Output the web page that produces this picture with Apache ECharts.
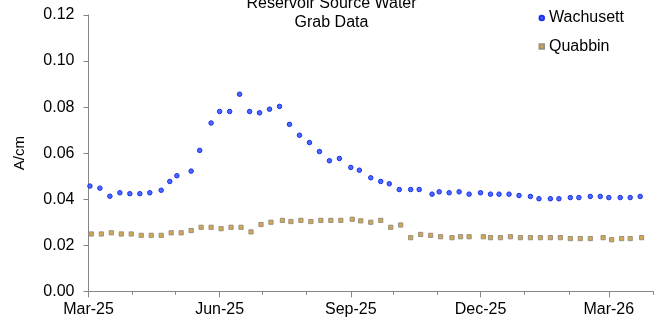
<!DOCTYPE html>
<html>
<head>
<meta charset="utf-8">
<script src="https://cdn.jsdelivr.net/npm/echarts@6/dist/echarts.min.js"></script>
<style>
html,body{margin:0;padding:0;background:#fff;}
#chart{width:663px;height:322px;}
</style>
</head>
<body>
<div id="chart"></div>
<script>
const titleText = 'Reservoir Source Water\nGrab Data';
const yAxisName = 'A/cm';
const seriesNames = ['Wachusett', 'Quabbin'];

const wachDates = ['2025-03-02','2025-03-09','2025-03-16','2025-03-23','2025-03-30','2025-04-06','2025-04-13','2025-04-21','2025-04-27','2025-05-02','2025-05-12','2025-05-18','2025-05-26','2025-06-01','2025-06-08','2025-06-15','2025-06-22','2025-06-29','2025-07-06','2025-07-13','2025-07-20','2025-07-27','2025-08-03','2025-08-10','2025-08-17','2025-08-24','2025-09-01','2025-09-07','2025-09-15','2025-09-22','2025-09-28','2025-10-05','2025-10-13','2025-10-19','2025-10-28','2025-11-02','2025-11-09','2025-11-16','2025-11-23','2025-12-01','2025-12-08','2025-12-14','2025-12-21','2025-12-28','2026-01-05','2026-01-11','2026-01-19','2026-01-25','2026-02-02','2026-02-08','2026-02-16','2026-02-23','2026-03-01','2026-03-09','2026-03-16','2026-03-23'];
const wachValues = [0.0457,0.0448,0.0413,0.0428,0.0424,0.0424,0.0428,0.0439,0.0477,0.0502,0.0522,0.0612,0.0731,0.0781,0.0781,0.0856,0.0781,0.0775,0.0791,0.0803,0.0725,0.0678,0.0646,0.0607,0.0567,0.0577,0.0538,0.0526,0.0493,0.0477,0.0467,0.0442,0.0442,0.0442,0.0422,0.0432,0.0428,0.0432,0.0422,0.0428,0.0422,0.0422,0.0422,0.0416,0.0412,0.0402,0.0402,0.0402,0.0407,0.0407,0.0412,0.0412,0.0407,0.0407,0.0407,0.0412];

const quabDates = ['2025-03-03','2025-03-10','2025-03-17','2025-03-24','2025-03-31','2025-04-07','2025-04-14','2025-04-21','2025-04-28','2025-05-05','2025-05-12','2025-05-19','2025-05-26','2025-06-02','2025-06-09','2025-06-16','2025-06-23','2025-06-30','2025-07-07','2025-07-15','2025-07-21','2025-07-28','2025-08-04','2025-08-11','2025-08-18','2025-08-25','2025-09-02','2025-09-08','2025-09-15','2025-09-22','2025-09-29','2025-10-06','2025-10-13','2025-10-20','2025-10-27','2025-11-03','2025-11-11','2025-11-17','2025-11-23','2025-12-03','2025-12-08','2025-12-15','2025-12-22','2025-12-29','2026-01-05','2026-01-12','2026-01-19','2026-01-26','2026-02-02','2026-02-09','2026-02-16','2026-02-25','2026-03-03','2026-03-10','2026-03-16','2026-03-24'];
const quabValues = [0.0249,0.0249,0.0254,0.0249,0.0249,0.0243,0.0243,0.0243,0.0254,0.0254,0.0264,0.0278,0.0278,0.0272,0.0278,0.0278,0.0258,0.0290,0.0300,0.0308,0.0303,0.0308,0.0303,0.0308,0.0308,0.0308,0.0313,0.0306,0.0300,0.0308,0.0278,0.0288,0.0233,0.0247,0.0243,0.0237,0.0233,0.0237,0.0237,0.0237,0.0233,0.0233,0.0237,0.0233,0.0233,0.0233,0.0233,0.0233,0.0229,0.0229,0.0229,0.0233,0.0224,0.0229,0.0229,0.0233];

const xMinDate = '2025-03-01';
const xMaxDate = '2026-04-01';
const monthTicks = ['2025-03-01','2025-04-01','2025-05-01','2025-06-01','2025-07-01','2025-08-01','2025-09-01','2025-10-01','2025-11-01','2025-12-01','2026-01-01','2026-02-01','2026-03-01','2026-04-01'];
const quarterTicks = ['2025-03-01','2025-06-01','2025-09-01','2025-12-01','2026-03-01'];
const monthNames = ['Jan','Feb','Mar','Apr','May','Jun','Jul','Aug','Sep','Oct','Nov','Dec'];

const toT = s => Date.parse(s + 'T00:00:00Z');
const fmtDate = v => {
  const d = new Date(v);
  return monthNames[d.getUTCMonth()] + '-' + String(d.getUTCFullYear()).slice(2);
};

const FONT = 'Liberation Sans, Arial, sans-serif';
const AXIS_COLOR = '#868686';

const chart = echarts.init(document.getElementById('chart'), null, {renderer: 'canvas'});
chart.setOption({
  animation: false,
  backgroundColor: '#ffffff',
  title: {
    text: titleText,
    left: 'center',
    top: -6,
    padding: 0,
    textStyle: {fontFamily: FONT, fontSize: 16, fontWeight: 'normal', color: '#000', lineHeight: 19}
  },
  legend: {
    orient: 'vertical',
    left: 538.5,
    top: 10,
    padding: 0,
    itemWidth: 4.5,
    itemHeight: 4.5,
    itemGap: 12.4,
    data: seriesNames,
    textStyle: {fontFamily: FONT, fontSize: 16, color: '#000', lineHeight: 16}
  },
  grid: {left: 88.5, right: 10, top: 15, bottom: 30.7, containLabel: false},
  xAxis: [
    {
      type: 'value',
      min: toT(xMinDate),
      max: toT(xMaxDate),
      position: 'bottom',
      splitLine: {show: false},
      axisLine: {show: true, lineStyle: {color: AXIS_COLOR, width: 1}},
      axisTick: {show: true, length: 6, inside: false, lineStyle: {color: AXIS_COLOR}, customValues: quarterTicks.map(toT)},
      axisLabel: {show: true, margin: 10, fontFamily: FONT, fontSize: 16, color: '#000', customValues: quarterTicks.map(toT), formatter: fmtDate}
    },
    {
      type: 'value',
      min: toT(xMinDate),
      max: toT(xMaxDate),
      position: 'bottom',
      offset: 0,
      splitLine: {show: false},
      axisLine: {show: false},
      axisTick: {show: true, length: 3.5, inside: false, lineStyle: {color: AXIS_COLOR}, customValues: monthTicks.map(toT)},
      axisLabel: {show: false}
    }
  ],
  yAxis: {
    type: 'value',
    min: 0,
    max: 0.12,
    interval: 0.02,
    name: yAxisName,
    nameLocation: 'middle',
    nameGap: 61,
    nameTextStyle: {fontFamily: FONT, fontSize: 15, color: '#000'},
    splitLine: {show: false},
    axisLine: {show: true, lineStyle: {color: AXIS_COLOR, width: 1}},
    axisTick: {show: true, length: 5, inside: false, lineStyle: {color: AXIS_COLOR}},
    axisLabel: {margin: 14, fontFamily: FONT, fontSize: 16, color: '#000', formatter: v => v.toFixed(2)}
  },
  series: [
    {
      name: seriesNames[0],
      type: 'scatter',
      xAxisIndex: 0,
      symbol: 'circle',
      symbolSize: 4.5,
      itemStyle: {color: '#4a6bff', borderColor: '#1a2ee8', borderWidth: 1, opacity: 1},
      data: wachDates.map((d, i) => [toT(d), wachValues[i]])
    },
    {
      name: seriesNames[1],
      type: 'scatter',
      xAxisIndex: 0,
      symbol: 'rect',
      symbolSize: 4.2,
      itemStyle: {color: '#d2a94e', borderColor: '#9a8f80', borderWidth: 1, opacity: 1},
      data: quabDates.map((d, i) => [toT(d), quabValues[i]])
    }
  ]
});
</script>
</body>
</html>
